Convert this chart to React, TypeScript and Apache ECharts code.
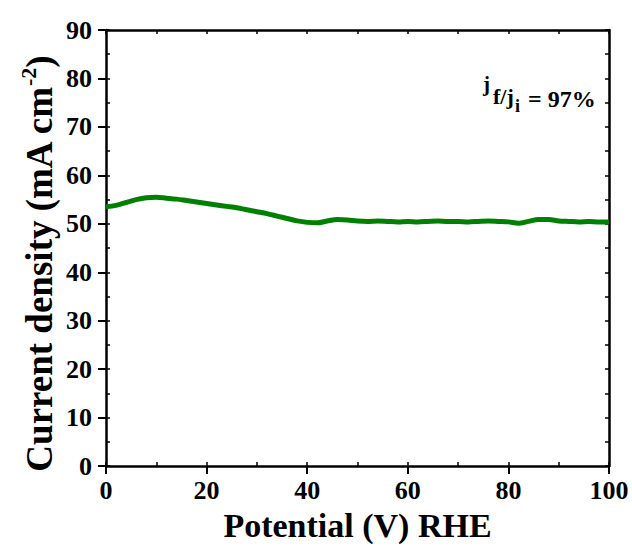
import React, { useEffect, useRef } from "react";
import * as echarts from "echarts";

const potential = [0,2,4,6,8,10,12,14,16,18,20,22,24,26,28,30,32,34,36,38,40,42,44,46,48,50,52,54,56,58,60,62,64,66,68,70,72,74,76,78,80,82,84,86,88,90,92,94,96,98,100];
const currentDensity = [53.5,53.8,54.4,55.0,55.4,55.5,55.3,55.1,54.8,54.5,54.2,53.9,53.6,53.3,52.9,52.5,52.1,51.6,51.1,50.6,50.3,50.2,50.6,50.9,50.8,50.6,50.5,50.6,50.5,50.4,50.5,50.4,50.5,50.6,50.5,50.5,50.4,50.5,50.6,50.5,50.4,50.1,50.5,50.9,50.9,50.6,50.5,50.4,50.5,50.4,50.4];

const FONT = "Liberation Serif";

export default function App() {
  const ref = useRef<HTMLDivElement>(null);
  useEffect(() => {
    if (!ref.current) return;
    const chart = echarts.init(ref.current, null, { renderer: "svg" });
    const data = potential.map((x, i) => [x, currentDensity[i]]);
    const txt = (text: string, x: number, y: number, size: number) => ({
      type: "text", x, y,
      style: { text, fontFamily: FONT, fontWeight: "bold", fontSize: size, fill: "#000", align: "left", verticalAlign: "middle" },
    });
    chart.setOption({
      animation: false,
      backgroundColor: "#fff",
      grid: { left: 106, right: 23, top: 30, bottom: 80 },
      xAxis: [
        {
          type: "value", min: 0, max: 100, interval: 20, position: "bottom",
          axisLine: { show: true, onZero: false, lineStyle: { color: "#000", width: 2.5 } },
          axisTick: { show: true, inside: false, length: 8, lineStyle: { color: "#000", width: 2 } },
          axisLabel: { color: "#000", fontFamily: FONT, fontWeight: "bold", fontSize: 26, margin: 11 },
          splitLine: { show: false },
          name: "Potential (V) RHE", nameLocation: "middle", nameGap: 40,
          nameTextStyle: { color: "#000", fontFamily: FONT, fontWeight: "bold", fontSize: 34 },
        },
        {
          type: "value", min: 0, max: 100, interval: 10, position: "bottom",
          axisLine: { show: false }, axisLabel: { show: false }, splitLine: { show: false },
          axisTick: { show: true, inside: true, length: 4, lineStyle: { color: "#000", width: 1.5 } },
        },
        {
          type: "value", min: 0, max: 100, interval: 10, position: "top",
          axisLine: { show: true, onZero: false, lineStyle: { color: "#000", width: 2.5 } },
          axisLabel: { show: false }, splitLine: { show: false },
          axisTick: { show: true, inside: true, length: 4, lineStyle: { color: "#000", width: 1.5 } },
        },
      ],
      yAxis: [
        {
          type: "value", min: 0, max: 90, interval: 10, position: "left",
          axisLine: { show: true, onZero: false, lineStyle: { color: "#000", width: 2.5 } },
          axisTick: { show: true, inside: false, length: 8, lineStyle: { color: "#000", width: 2 } },
          axisLabel: { color: "#000", fontFamily: FONT, fontWeight: "bold", fontSize: 26, margin: 14 },
          splitLine: { show: false },
        },
        {
          type: "value", min: 0, max: 90, interval: 5, position: "left",
          axisLine: { show: false }, axisLabel: { show: false }, splitLine: { show: false },
          axisTick: { show: true, inside: true, length: 4, lineStyle: { color: "#000", width: 1.5 } },
        },
        {
          type: "value", min: 0, max: 90, interval: 5, position: "right",
          axisLine: { show: true, onZero: false, lineStyle: { color: "#000", width: 2.5 } },
          axisLabel: { show: false }, splitLine: { show: false },
          axisTick: { show: true, inside: true, length: 4, lineStyle: { color: "#000", width: 1.5 } },
        },
      ],
      graphic: [
        {
          type: "text", x: 39, y: 264, rotation: Math.PI / 2,
          style: {
            text: "{a|Current density (mA cm}{s|-2}{a|)}",
            align: "center", verticalAlign: "middle",
            rich: {
              a: { fill: "#000", fontFamily: FONT, fontWeight: "bold", fontSize: 37 },
              s: { fill: "#000", fontFamily: FONT, fontWeight: "bold", fontSize: 22, padding: [0, 0, 22, 0] },
            },
          },
        },
        txt("j", 483, 84, 21),
        txt("f/j", 493, 96, 22),
        txt("i", 515, 106, 18),
        txt("= 97%", 528, 99, 24),
      ],
      series: [
        {
          type: "line", xAxisIndex: 0, yAxisIndex: 0, data, showSymbol: false, smooth: 0.3,
          lineStyle: { color: "#008000", width: 5 },
          itemStyle: { color: "#008000" },
        },
      ],
    });
    return () => chart.dispose();
  }, []);
  return <div ref={ref} style={{ width: 632, height: 547, position: "absolute", left: 0, top: 0 }} />;
}
